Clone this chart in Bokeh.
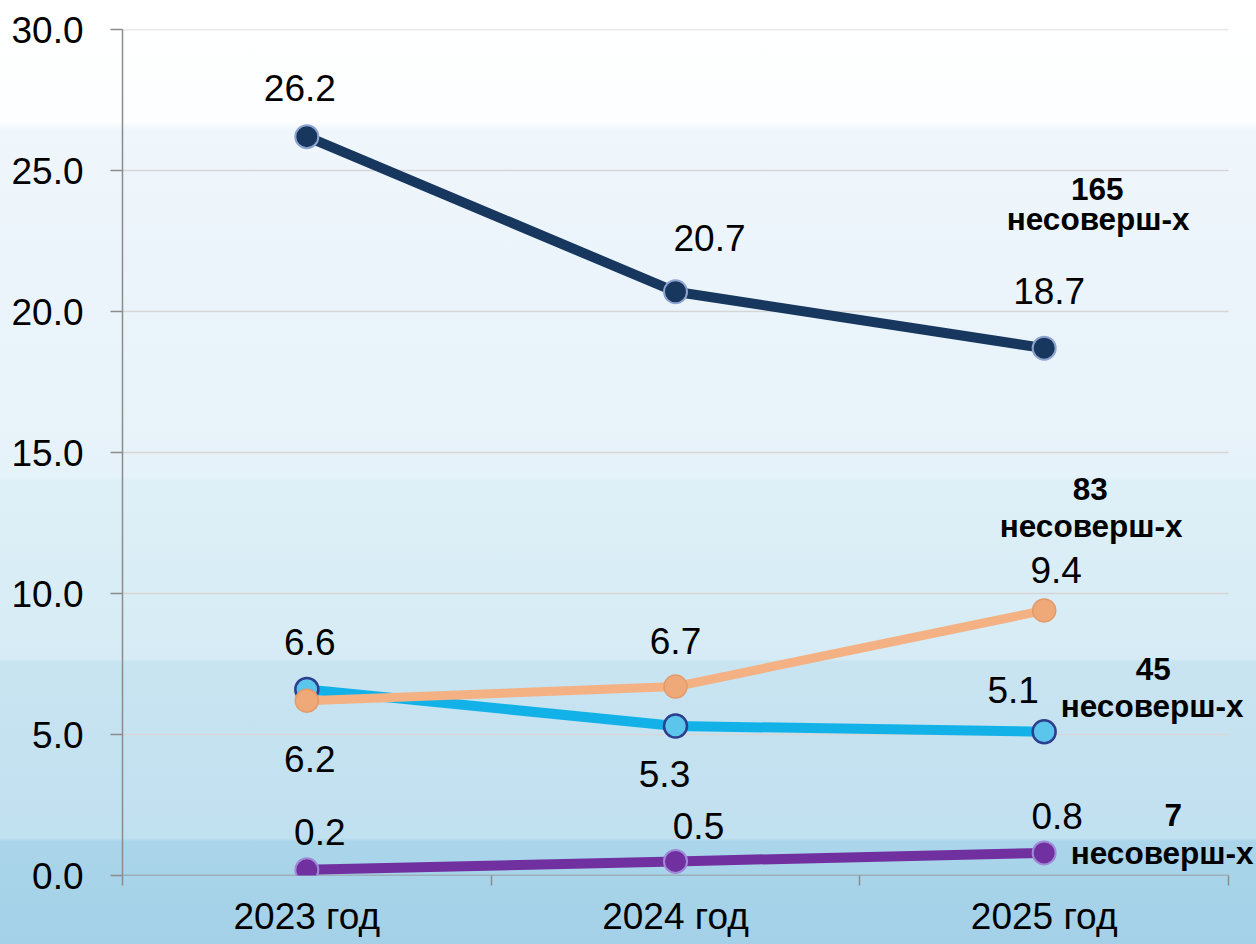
from bokeh.plotting import figure
from bokeh.models import FixedTicker, Label, Range1d, NumeralTickFormatter, ColumnDataSource
from bokeh.embed import file_html
from bokeh.resources import INLINE

# ---- data ----
years = ["2023 год", "2024 год", "2025 год"]
s_navy = [26.2, 20.7, 18.7]
s_cyan = [6.6, 5.3, 5.1]
s_orange = [6.2, 6.7, 9.4]
s_purple = [0.2, 0.5, 0.8]
note_counts = ["165", "83", "45", "7"]
note_word = "несоверш-х"
y_ticks = [0, 5, 10, 15, 20, 25, 30]

FONT = "Liberation Sans"
n = len(years)
xs = [i + 0.5 for i in range(n)]
bounds = [float(i) for i in range(n + 1)]

W, H = 1256, 944
LEFT, TOP, BOTTOM = 122, 29, 69
AXIS_W = 1106                       # pixel width of the category area
FRAME_W = W - LEFT                  # frame runs to the right edge so notes are not clipped
x_end = n * FRAME_W / AXIS_W

p = figure(width=W, height=H, x_range=Range1d(0, x_end), y_range=Range1d(0, 30),
           output_backend="svg", toolbar_location=None,
           min_border_left=LEFT, min_border_right=0, min_border_top=TOP, min_border_bottom=BOTTOM)
p.outline_line_color = None
p.background_fill_color = None
p.border_fill_color = None
p.styles = {"background": "linear-gradient(to bottom, #ffffff 0%, #fdfeff 12.9%, #eff6fc 13.8%, "
                          "#e6f2f9 50.6%, #def0f7 50.9%, #d6ebf5 69.8%, #c9e4f1 70.1%, "
                          "#c1e0f0 88.8%, #aad5ea 89.1%, #a4d1e8 100%)"}

# grid (drawn only across the category area)
p.xgrid.grid_line_color = None
p.ygrid.grid_line_color = None
grid_y = y_ticks[1:]
p.segment(x0=[0] * len(grid_y), x1=[n] * len(grid_y), y0=grid_y, y1=grid_y,
          line_color="#d6d6d6", line_width=1.5)
p.segment(x0=[0], x1=[n], y0=[0], y1=[0], line_color="#8c8c8c", line_width=1.5)

# y axis
p.yaxis.ticker = FixedTicker(ticks=y_ticks)
p.yaxis.formatter = NumeralTickFormatter(format="0.0")
p.yaxis.major_label_text_font = FONT
p.yaxis.major_label_text_font_size = "37px"
p.yaxis.major_label_text_color = "#000000"
p.yaxis.major_tick_out = 12
p.yaxis.major_tick_in = 0
p.yaxis.minor_tick_out = 0
p.yaxis.minor_tick_in = 0
p.yaxis.major_label_standoff = 27
p.yaxis.axis_line_color = "#8c8c8c"
p.yaxis.axis_line_width = 1.5
p.yaxis.major_tick_line_color = "#8c8c8c"
p.yaxis.major_tick_line_width = 1.5

# x axis
p.xaxis.ticker = FixedTicker(ticks=xs, minor_ticks=bounds)
p.xaxis.major_label_overrides = {x: lab for x, lab in zip(xs, years)}
p.xaxis.major_label_text_font = FONT
p.xaxis.major_label_text_font_size = "37px"
p.xaxis.major_label_text_color = "#000000"
p.xaxis.major_tick_line_color = None
p.xaxis.major_tick_out = 0
p.xaxis.major_tick_in = 0
p.xaxis.minor_tick_out = 10
p.xaxis.minor_tick_in = 0
p.xaxis.minor_tick_line_color = "#8c8c8c"
p.xaxis.minor_tick_line_width = 1.5
p.xaxis.major_label_standoff = 10
p.xaxis.axis_line_color = None

series = [
    (s_cyan, "#12b2e8", 10, "#5cc5ec", "#2c3f8e", 2.5),
    (s_orange, "#f4b183", 9, "#efa878", "#e39a69", 1.5),
    (s_navy, "#17375e", 10, "#17375e", "#8fa3d0", 2),
    (s_purple, "#7030a0", 10, "#7030a0", "#a08ad8", 2),
]
for vals, lc, lw, fc, oc, ow in series:
    src = ColumnDataSource(dict(x=xs, y=vals))
    p.line("x", "y", source=src, line_color=lc, line_width=lw)
    p.scatter("x", "y", source=src, size=23, fill_color=fc, line_color=oc, line_width=ow)

# value labels: (dx, dy) pixel offsets for each point
label_offsets = {
    "navy": [(-7, 49), (34, 54), (5, 57)],
    "cyan": [(3, 47), (-11, -48), (-31, 42)],
    "orange": [(3, -58), (0, 46), (12, 40)],
    "purple": [(13, 38), (23, 35), (13, 37)],
}
for vals, key in [(s_navy, "navy"), (s_cyan, "cyan"), (s_orange, "orange"), (s_purple, "purple")]:
    for x, v, (dx, dy) in zip(xs, vals, label_offsets[key]):
        p.add_layout(Label(x=x, y=v, x_offset=dx, y_offset=dy, text=f"{v:.1f}",
                           text_font=FONT, text_font_size="37px", text_color="#000000",
                           text_align="center", text_baseline="alphabetic"))

# bold notes near the 2025 points: (count dx, count dy, word dx, word dy)
note_offsets = [(53, 159, 54, 129), (46, 121, 47, 84), (109, 63, 108, 26), (129, 38, 118, 0)]
for vals, cnt, (cdx, cdy, wdx, wdy) in zip([s_navy, s_orange, s_cyan, s_purple], note_counts, note_offsets):
    for txt, dx, dy in [(cnt, cdx, cdy), (note_word, wdx, wdy)]:
        p.add_layout(Label(x=xs[-1], y=vals[-1], x_offset=dx, y_offset=dy, text=txt,
                           text_font=FONT, text_font_size="31.5px", text_font_style="bold",
                           text_color="#000000", text_align="center", text_baseline="alphabetic"))

open("out.html", "w").write(file_html(p, INLINE))
